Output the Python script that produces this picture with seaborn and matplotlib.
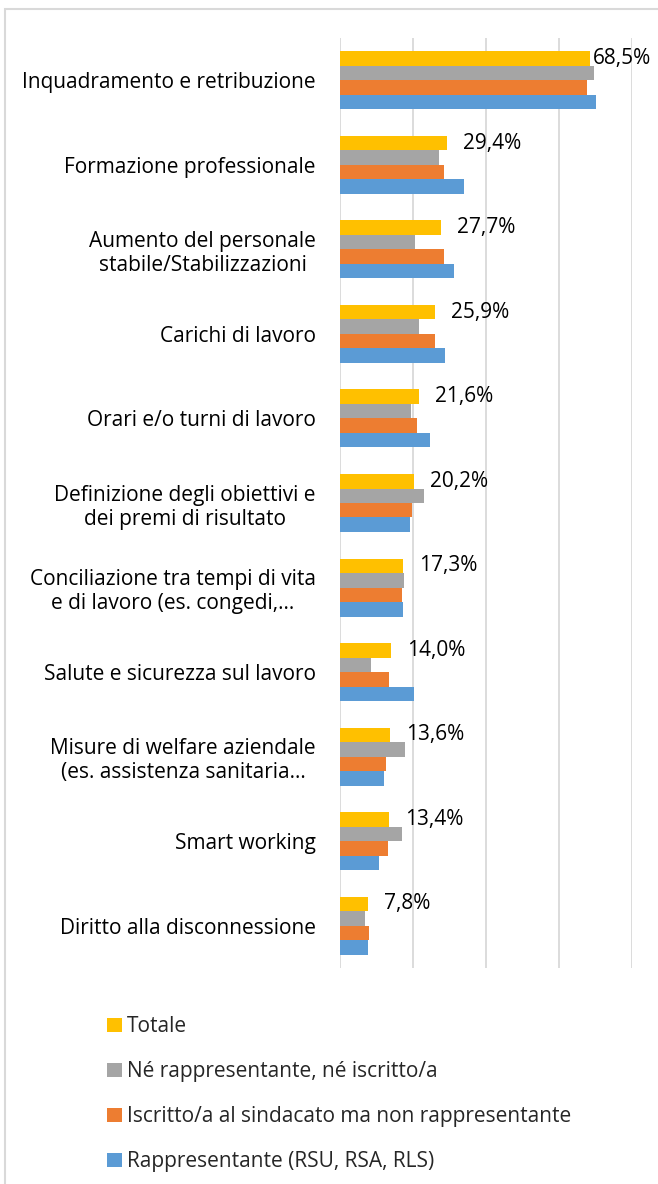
import matplotlib
matplotlib.use('Agg')
import matplotlib.pyplot as plt
import seaborn as sns
import pandas as pd
from matplotlib.patches import Rectangle

categories = [
    "Inquadramento e retribuzione",
    "Formazione professionale",
    "Aumento del personale\nstabile/Stabilizzazioni",
    "Carichi di lavoro",
    "Orari e/o turni di lavoro",
    "Definizione degli obiettivi e\ndei premi di risultato",
    "Conciliazione tra tempi di vita\ne di lavoro (es. congedi,…",
    "Salute e sicurezza sul lavoro",
    "Misure di welfare aziendale\n(es. assistenza sanitaria…",
    "Smart working",
    "Diritto alla disconnessione",
]
series_names = [
    "Totale",
    "Né rappresentante, né iscritto/a",
    "Iscritto/a al sindacato ma non rappresentante",
    "Rappresentante (RSU, RSA, RLS)",
]
totale = [68.5, 29.4, 27.7, 25.9, 21.6, 20.2, 17.3, 14.0, 13.6, 13.4, 7.8]
ne_rapp_ne_iscr = [69.6, 27.0, 20.5, 21.6, 19.4, 22.9, 17.5, 8.5, 17.9, 17.0, 6.9]
iscritto = [67.7, 28.4, 28.4, 26.1, 21.1, 19.6, 17.0, 13.4, 12.7, 13.1, 7.9]
rappresentante = [70.0, 34.1, 31.1, 28.7, 24.7, 19.1, 17.3, 20.3, 12.1, 10.7, 7.6]
colors = ["#FFC000", "#A5A5A5", "#ED7D31", "#5B9BD5"]

rows = []
for s, vals in zip(series_names, [totale, ne_rapp_ne_iscr, iscritto, rappresentante]):
    for c, v in zip(categories, vals):
        rows.append({"category": c, "series": s, "value": v})
df = pd.DataFrame(rows)

sns.set_theme(style="white")
plt.rcParams['font.family'] = ['Open Sans', 'DejaVu Sans']
FS = 15

W, H = 658, 1184
fig = plt.figure(figsize=(W / 100, H / 100), dpi=100)
fig.patches.append(Rectangle((5 / W, -0.1), 2.0, (1 - 9 / H) + 0.1, transform=fig.transFigure,
                             fill=False, edgecolor="#D9D9D9", linewidth=1.5, zorder=0))

ax = fig.add_axes([340 / W, 1 - 968 / H, (632 - 340) / W, (968 - 38) / H])
ax.set_facecolor('none')
sns.barplot(data=df, x="value", y="category", hue="series", hue_order=series_names,
            order=categories, palette=colors, saturation=1, orient="h", width=0.686, gap=0,
            linewidth=0, ax=ax, zorder=3)

ax.set_xlim(0, 80)
ax.set_ylim(len(categories) - 0.5, -0.5)
ax.set_xticks([0, 20, 40, 60, 80])
ax.set_xticklabels([])
ax.grid(axis='x', color="#D9D9D9", linewidth=1.3, zorder=0)
ax.grid(axis='y', visible=False)
for sp in ax.spines.values():
    sp.set_visible(False)
ax.set_xlabel("")
ax.set_ylabel("")
ax.tick_params(axis='both', length=0)
ax.tick_params(axis='y', pad=24 * 0.72, labelsize=FS)
for t in ax.get_yticklabels():
    t.set_multialignment('center')
    t.set_color('black')
    t.set_linespacing(1.2)

for bar, v in zip(ax.containers[0], totale):
    w = bar.get_width()
    yc = bar.get_y() + bar.get_height() / 2
    off = 16 if w < 60 else 3
    ax.annotate(f"{v:.1f}%".replace('.', ','), xy=(w, yc), xytext=(off * 0.72, 0),
                textcoords='offset points', va='center', ha='left', fontsize=FS,
                color='black', annotation_clip=False)

handles, labels = ax.get_legend_handles_labels()
ax.get_legend().remove()
fig.legend(handles, labels, loc='upper left', bbox_to_anchor=(97 / W, 1 - 1006 / H),
           frameon=False, fontsize=FS, handlelength=0.68, handleheight=0.68,
           handletextpad=0.25, labelspacing=1.15, borderpad=0)

fig.savefig("out.png", dpi=100)
